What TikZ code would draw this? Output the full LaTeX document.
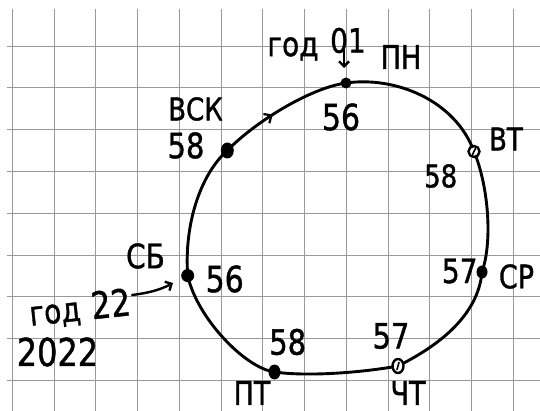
\documentclass[tikz,border=0pt]{standalone}
\usepackage{fontspec}
\setmainfont[FakeBold=1.2]{DejaVu Sans}
\usepackage{graphicx}
\usetikzlibrary{arrows.meta,decorations.markings}
\newcommand\hwtext[2]{{\fontsize{#1}{#1}\selectfont\scalebox{1}[1.2]{#2}}}
\begin{document}
\begin{tikzpicture}[x=1pt,y=-1pt,
  gridline/.style={draw=black!40, line width=0.8pt},
  loopline/.style={line width=2.9pt, line cap=round},
  pen/.style={line width=2.4pt, line cap=round},
  dotfill/.style={fill=black},
  dotring/.style={draw=black, line width=2.4pt, fill=white},
  lbl/.style={inner sep=0pt},
  tipb/.style={-{Straight Barb[length=5pt,width=10pt,line width=2.4pt]}},
  midmark/.style={postaction={decorate},
    decoration={markings, mark=at position 0.42 with {\arrow{Straight Barb[length=6pt,width=11pt,line width=2.2pt]}}}}
]
\useasboundingbox[fill=white] (0,0) rectangle (540,411);
% grid
\foreach \i in {0,...,12} \draw[gridline] ({12.3+41.75*\i},9) -- ({12.3+41.75*\i},411);
\foreach \j in {0,...,8} \draw[gridline] (7,{46+41.8*\j}) -- (540,{46+41.8*\j});
% day points
\coordinate (pn) at (346,83);
\coordinate (vt) at (474,151.5);
\coordinate (sr) at (482,272);
\coordinate (cht) at (398,366);
\coordinate (pt) at (274.5,372);
\coordinate (sb) at (187.7,275.6);
\coordinate (vsk) at (227.3,150.5);
% loop
\draw[loopline, midmark] (vsk) .. controls (255,122) and (310,88) .. (pn);
\draw[loopline] (pn) .. controls (395,76) and (455,100) .. (vt);
\draw[loopline] (vt) .. controls (488,185) and (493,240) .. (sr);
\draw[loopline] (sr) .. controls (478,315) and (440,345) .. (cht);
\draw[loopline] (cht) .. controls (365,372) and (310,377) .. (pt);
\draw[loopline] (pt) .. controls (245,368) and (197,318) .. (sb);
\draw[loopline] (sb) .. controls (184,225) and (200,175) .. (vsk);
% dots
\fill[dotfill] (pn) circle (5.5);
\fill[dotfill] (vsk) ellipse (6.5 and 8);
\draw[dotring] (vt) circle (5.5);
\draw[pen, line width=1.6pt] ([shift={(-1.5,3)}]vt) -- ([shift={(1.5,-3)}]vt);
\fill[dotfill] (sr) ellipse (5.5 and 6.5);
\draw[dotring] (cht) ellipse (5.5 and 7);
\draw[pen, line width=1.6pt] ([shift={(-1,3.5)}]cht) -- ([shift={(1,-3.5)}]cht);
\fill[dotfill] (pt) ellipse (6 and 7.5);
\fill[dotfill] (sb) circle (6.5);
% labels
\node[lbl] (god1) at (293,49) {\hwtext{28}{год}};
\node[lbl] (y01) at (348,40.5) {\hwtext{28}{01}};
\coordinate (a01) at (344,50);
\coordinate (b01) at (344,68);
\draw[pen, tipb] (a01) -- (b01);
\node[lbl] (lpn) at (401,57) {\hwtext{27}{ПН}};
\node[lbl] (npn) at (341,117) {\hwtext{30}{56}};
\node[lbl] (lvsk) at (195.5,109) {\hwtext{26}{ВСК}};
\node[lbl] (nvsk) at (186,145.5) {\hwtext{29}{58}};
\node[lbl] (lvt) at (506,139) {\hwtext{26}{ВТ}};
\node[lbl] (nvt) at (440.7,176) {\hwtext{26}{58}};
\node[lbl] (lsb) at (145.5,256) {\hwtext{28}{СБ}};
\node[lbl] (nsb) at (224.7,279) {\hwtext{30}{56}};
\node[lbl, rotate=6] (god22) at (80,309) {\hwtext{28}{год}\hspace{11pt}\hwtext{31}{22}};
\coordinate (a22) at (132,295);
\draw[pen, tipb] (a22) .. controls (148,293) and (160,290) .. (173,283);
\node[lbl] (y2022) at (57.5,352) {\hwtext{32}{2022}};
\node[lbl] (npt) at (287.7,342) {\hwtext{29}{58}};
\node[lbl] (lpt) at (252,393) {\hwtext{27}{ПТ}};
\node[lbl] (ncht) at (391,336) {\hwtext{29}{57}};
\node[lbl] (lcht) at (408,393) {\hwtext{27}{ЧТ}};
\node[lbl] (nsr) at (459.7,271) {\hwtext{28}{57}};
\node[lbl] (lsr) at (516.5,276.5) {\hwtext{27}{СР}};
\end{tikzpicture}
\end{document}
